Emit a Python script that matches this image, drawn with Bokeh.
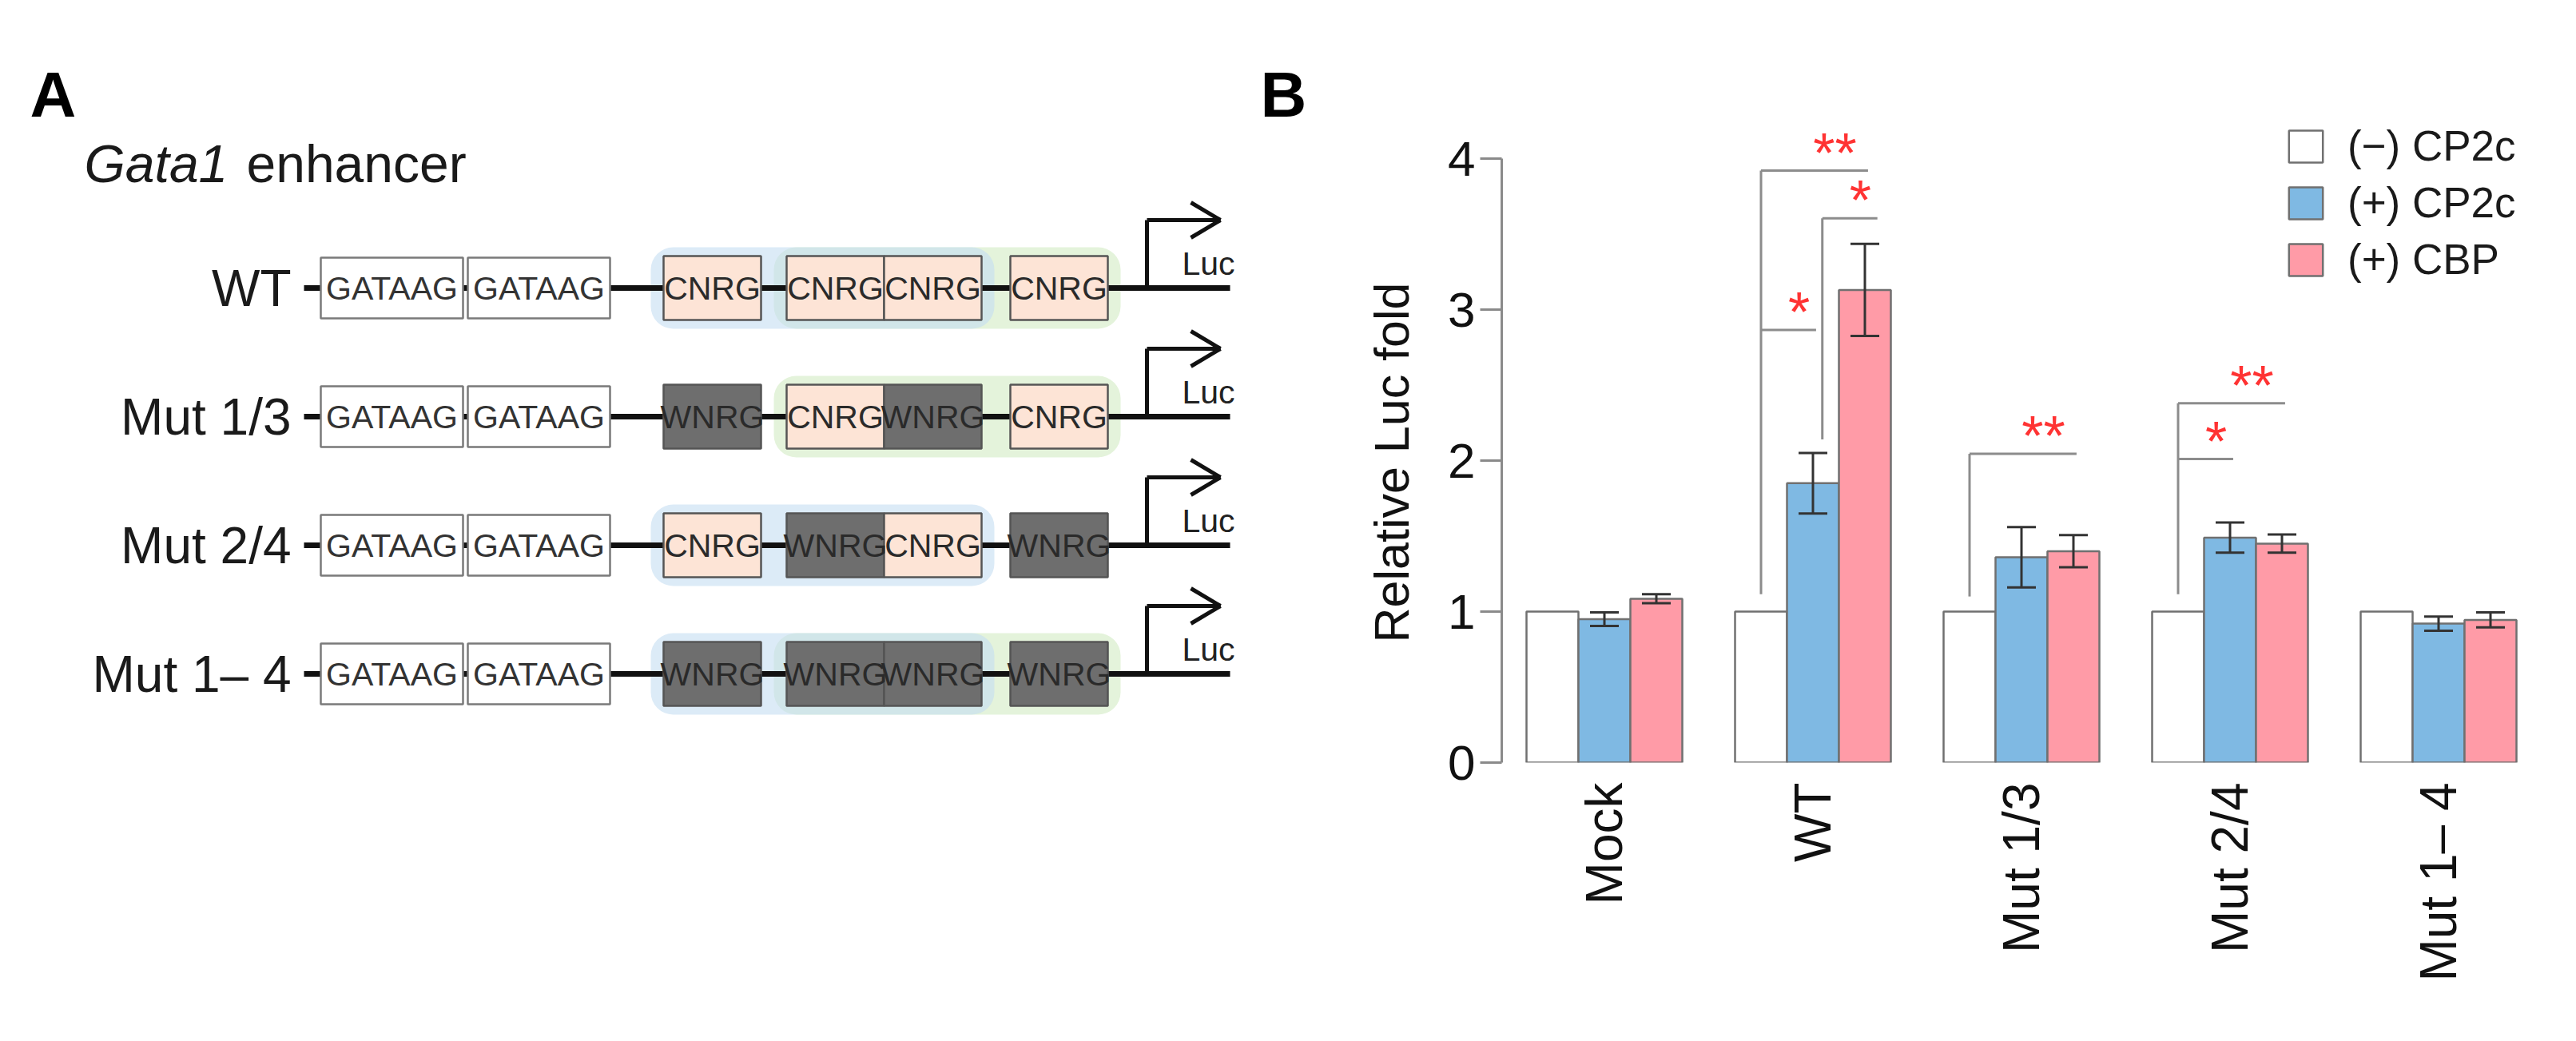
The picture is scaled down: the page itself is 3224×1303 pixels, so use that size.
import math
from bokeh.plotting import figure
from bokeh.layouts import row
from bokeh.models import (Range1d, FixedTicker, Legend, LegendItem, Title,
                          ColumnDataSource, Whisker, TeeHead)
from bokeh.core.properties import value
from bokeh.embed import file_html
from bokeh.resources import INLINE

# ---------------- data: panel B ----------------
groups = ["Mock", "WT", "Mut 1/3", "Mut 2/4", "Mut 1\u2013 4"]
series = ["(\u2212) CP2c", "(+) CP2c", "(+) CBP"]
cp2c_neg = [1.0, 1.0, 1.0, 1.0, 1.0]
cp2c_pos = [0.95, 1.85, 1.36, 1.49, 0.92]
cbp_pos = [1.085, 3.13, 1.40, 1.45, 0.945]
cp2c_pos_err = [0.045, 0.20, 0.20, 0.10, 0.047]
cbp_pos_err = [0.03, 0.305, 0.107, 0.06, 0.05]
y_ticks = [0, 1, 2, 3, 4]

# significance brackets (group index, from series, to series, base, top, label)
sig_group = [1, 1, 1, 2, 3, 3]
sig_from = [0, 1, 0, 0, 0, 0]
sig_to = [2, 2, 1, 2, 2, 1]
sig_base = [1.115, 2.14, None, 1.10, 1.115, None]
sig_top = [3.92, 3.605, 2.865, 2.045, 2.38, 2.01]
sig_text = ["**", "*", "*", "**", "**", "*"]

# ---------------- data: panel A ----------------
constructs = ["WT", "Mut 1/3", "Mut 2/4", "Mut 1\u2013 4"]
sites = [["CNRG", "CNRG", "CNRG", "CNRG"],
         ["WNRG", "CNRG", "WNRG", "CNRG"],
         ["CNRG", "WNRG", "CNRG", "WNRG"],
         ["WNRG", "WNRG", "WNRG", "WNRG"]]
blue_hl = [True, False, True, True]
green_hl = [True, True, False, True]
gata_sites = ["GATAAG", "GATAAG"]

# ---------------- styles ----------------
SANS = "Liberation Sans"
C_WHITE, C_BLUE, C_PINK = "#ffffff", "#7fb9e3", "#ff9ba7"
C_CNRG, C_WNRG = "#fde4d6", "#6e6e6e"
OFF = 8
H = 1280
WA = 1652
WB = 3208 - WA
MB_L, MB_R, MB_T, MB_B = 227, 20, 77, 326   # panel B borders (frames aligned in row)

# ================= Panel A (diagram) =================
pA = figure(width=WA, height=H, x_range=Range1d(OFF, OFF + WA),
            y_range=Range1d(OFF + H - MB_B, OFF + MB_T),
            x_axis_location=None, y_axis_location=None, toolbar_location=None,
            output_backend="svg", min_border_left=0, min_border_right=0,
            min_border_top=MB_T, min_border_bottom=MB_B, outline_line_color=None)
pA.grid.visible = False

ROW_Y0, ROW_DY = 368, 161
LINE_X0, LINE_X1 = 388, 1547
GATA_X, GATA_W, GATA_H = [409, 593], 178, 76
SITE_X, SITE_W, SITE_H = [838, 992, 1114, 1272], 122, 80
HL_PAD_X, HL_HALF = 16, 51
PROM_X, PROM_H, TIP_X = 1443, 85, 1535

rows_y = [ROW_Y0 + k * ROW_DY for k in range(len(constructs))]

# highlights
g_l, g_r, g_t, g_b = [], [], [], []
b_l, b_r, b_t, b_b = [], [], [], []
for k, ry in enumerate(rows_y):
    if green_hl[k]:
        g_l.append(SITE_X[1] - HL_PAD_X); g_r.append(SITE_X[3] + SITE_W + HL_PAD_X)
        g_t.append(ry - HL_HALF); g_b.append(ry + HL_HALF)
    if blue_hl[k]:
        b_l.append(SITE_X[0] - HL_PAD_X); b_r.append(SITE_X[2] + SITE_W + HL_PAD_X)
        b_t.append(ry - HL_HALF); b_b.append(ry + HL_HALF)
pA.quad(left=g_l, right=g_r, top=g_t, bottom=g_b, fill_color="#e4f3db", line_color=None, border_radius=28)
pA.quad(left=b_l, right=b_r, top=b_t, bottom=b_b, fill_color="#c5ddf2", fill_alpha=0.6,
        line_color=None, border_radius=28)

# main lines
pA.segment(x0=[LINE_X0] * 4, x1=[LINE_X1] * 4, y0=rows_y, y1=rows_y, line_width=7, line_color="#111111")

# GATAAG boxes
gl, gr, gt, gb, gx, gy, gtxt = [], [], [], [], [], [], []
for ry in rows_y:
    for j, x in enumerate(GATA_X):
        gl.append(x); gr.append(x + GATA_W); gt.append(ry - GATA_H / 2); gb.append(ry + GATA_H / 2)
        gx.append(x + GATA_W / 2); gy.append(ry); gtxt.append(gata_sites[j])
pA.quad(left=gl, right=gr, top=gt, bottom=gb, fill_color="white", line_color="#7a7a7a", line_width=2.5)
pA.text(x=gx, y=gy, text=gtxt, text_align="center", text_baseline="middle",
        text_font=value(SANS), text_font_size="41px", text_color="#333333")

# CNRG / WNRG boxes
sl, sr, st, sb, sc, sx, sy, stxt = [], [], [], [], [], [], [], []
for k, ry in enumerate(rows_y):
    for j, x in enumerate(SITE_X):
        sl.append(x); sr.append(x + SITE_W); st.append(ry - SITE_H / 2); sb.append(ry + SITE_H / 2)
        sc.append(C_CNRG if sites[k][j] == "CNRG" else C_WNRG)
        sx.append(x + SITE_W / 2); sy.append(ry); stxt.append(sites[k][j])
pA.quad(left=sl, right=sr, top=st, bottom=sb, fill_color=sc, line_color="#555555", line_width=2.5)
pA.text(x=sx, y=sy, text=stxt, text_align="center", text_baseline="middle",
        text_font=value(SANS), text_font_size="41px", text_color="#2a2a2a")

# promoter arrows
px0, py0, px1, py1 = [], [], [], []
for ry in rows_y:
    top = ry - PROM_H
    px0 += [PROM_X, PROM_X, TIP_X - 37, TIP_X - 37]
    py0 += [ry + 3, top, top - 22, top + 22]
    px1 += [PROM_X, TIP_X, TIP_X, TIP_X]
    py1 += [top, top, top, top]
pA.segment(x0=px0, y0=py0, x1=px1, y1=py1, line_width=5, line_color="#111111")
pA.text(x=[PROM_X + 44] * 4, y=[ry - 31 for ry in rows_y], text=["Luc"] * 4,
        text_align="left", text_baseline="middle", text_font=value(SANS),
        text_font_size="41px", text_color="#222222")

# row labels
pA.text(x=[372] * 4, y=rows_y, text=constructs, text_align="right", text_baseline="middle",
        text_font=value(SANS), text_font_size="64px", text_color="#1a1a1a")

# title
pA.text(x=[113], y=[212], text=["Gata1"], text_font=value(SANS), text_font_style="italic",
        text_font_size="66px", text_baseline="middle", text_color="#1a1a1a")
pA.text(x=[316], y=[212], text=["enhancer"], text_font=value(SANS),
        text_font_size="66px", text_baseline="middle", text_color="#1a1a1a")

# panel letters
pA.text(x=[45, 1585], y=[126, 126], text=["A", "B"], text_font=value(SANS), text_font_style="bold",
        text_font_size="80px", text_baseline="middle", text_color="#000000")

# ================= Panel B (bar chart) =================
PX_PER_X = 261.0
PX_PER_Y = 189.0
FRAME_LEFT_PAGE = 1887
G0_PAGE = 2015.5
x_start = (FRAME_LEFT_PAGE - G0_PAGE) / PX_PER_X
x_end = x_start + (WB - MB_L - MB_R) / PX_PER_X
y_end = (H - MB_T - MB_B) / PX_PER_Y

pB = figure(width=WB, height=H, x_range=Range1d(x_start, x_end), y_range=Range1d(0, y_end),
            toolbar_location=None, output_backend="svg", outline_line_color=None,
            min_border_left=MB_L, min_border_right=MB_R, min_border_top=MB_T, min_border_bottom=MB_B)
pB.grid.visible = False

BW = 65 / PX_PER_X
vals = [cp2c_neg, cp2c_pos, cbp_pos]
errs = [None, cp2c_pos_err, cbp_pos_err]
colors = [C_WHITE, C_BLUE, C_PINK]
renderers = []
for s in range(3):
    xs = [i + (s - 1) * BW for i in range(len(groups))]
    src = ColumnDataSource(dict(x=xs, top=vals[s]))
    r = pB.vbar(x="x", top="top", bottom=0, width=BW, source=src, fill_color=colors[s],
                line_color="#707070", line_width=2.5)
    renderers.append(r)
    if errs[s] is not None:
        esrc = ColumnDataSource(dict(x=xs, upper=[v + e for v, e in zip(vals[s], errs[s])],
                                     lower=[v - e for v, e in zip(vals[s], errs[s])]))
        w = Whisker(source=esrc, base="x", upper="upper", lower="lower", level="overlay",
                    line_color="#333333", line_width=3,
                    upper_head=TeeHead(size=36, line_color="#333333", line_width=3),
                    lower_head=TeeHead(size=36, line_color="#333333", line_width=3))
        pB.add_layout(w)

# significance brackets
bx0, by0, bx1, by1 = [], [], [], []
tx, ty = [], []
for j in range(len(sig_group)):
    g = sig_group[j]
    shift = 0.045 if sig_from[j] == 1 else 0.0
    xs_ = g + (sig_from[j] - 1) * BW + shift
    xe_ = g + (sig_to[j] - 1) * BW + shift + 0.015
    bx0.append(xs_); bx1.append(xe_); by0.append(sig_top[j]); by1.append(sig_top[j])
    if sig_base[j] is not None:
        bx0.append(xs_); bx1.append(xs_); by0.append(sig_base[j]); by1.append(sig_top[j])
    tx.append(xe_ - 0.31 * (xe_ - xs_))
    ty.append(sig_top[j] + 22 / PX_PER_Y)
pB.segment(x0=bx0, y0=by0, x1=bx1, y1=by1, line_color="#8c8c8c", line_width=3)
pB.text(x=tx, y=ty, text=sig_text, text_align="center", text_baseline="alphabetic",
        text_font=value(SANS), text_font_size="70px", text_color="#ff3333")

# axes
ya = pB.yaxis[0]
ya.ticker = FixedTicker(ticks=y_ticks)
ya.bounds = (min(y_ticks), max(y_ticks))
ya.axis_line_color = "#8a8a8a"
ya.axis_line_width = 3
ya.major_tick_line_color = "#8a8a8a"
ya.major_tick_line_width = 3
ya.major_tick_out = 27
ya.major_tick_in = 0
ya.minor_tick_line_color = None
ya.major_label_standoff = 6
ya.major_label_text_font = SANS
ya.major_label_text_font_size = "62px"
ya.major_label_text_color = "#111111"

xa = pB.xaxis[0]
xa.ticker = FixedTicker(ticks=list(range(len(groups))))
xa.major_label_overrides = {i: g for i, g in enumerate(groups)}
xa.axis_line_color = None
xa.major_tick_line_color = None
xa.minor_tick_line_color = None
xa.major_tick_out = 0
xa.major_tick_in = 0
xa.major_label_orientation = math.pi / 2
xa.major_label_standoff = 25
xa.major_label_text_font = SANS
xa.major_label_text_font_size = "64px"
xa.major_label_text_color = "#111111"

# y-axis title: starts where the reference label starts (page y ~812) and reads upward
frame_bottom_page = OFF + H - MB_B
pB.add_layout(Title(text="Relative Luc fold", align="left", offset=frame_bottom_page - 812,
                    text_font=SANS, text_font_size="61px", text_font_style="normal",
                    text_color="#111111", standoff=68), "left")

legend = Legend(items=[LegendItem(label=series[s], renderers=[renderers[s]]) for s in range(3)],
                location=(980, 599), orientation="vertical", padding=0, margin=0, spacing=10,
                glyph_width=53, glyph_height=50, label_standoff=26,
                label_text_font=SANS, label_text_font_size="53px", label_text_color="#1a1a1a",
                border_line_color=None, background_fill_alpha=0)
pB.add_layout(legend)

layout = row(pA, pB)
open("out.html", "w").write(file_html(layout, INLINE))
